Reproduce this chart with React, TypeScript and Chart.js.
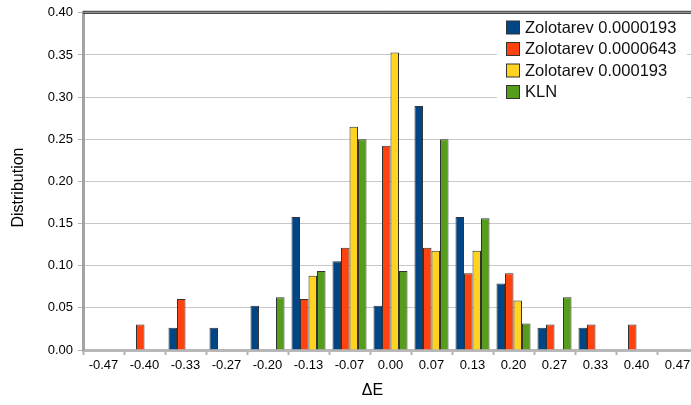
import React, { useEffect, useRef } from "react";
import { Chart, registerables } from "chart.js";

Chart.register(...registerables);

const categories = [
  "-0.47", "-0.40", "-0.33", "-0.27", "-0.20", "-0.13", "-0.07",
  "0.00", "0.07", "0.13", "0.20", "0.27", "0.33", "0.40", "0.47",
];

const zolotarev0000193 = [null, null, 0.0263, 0.0263, 0.0526, 0.1579, 0.1053, 0.0526, 0.2895, 0.1579, 0.0789, 0.0263, 0.0263, null, null];
const zolotarev0000643 = [null, 0.0303, 0.0606, null, null, 0.0606, 0.1212, 0.2424, 0.1212, 0.0909, 0.0909, 0.0303, 0.0303, 0.0303, null];
const zolotarev000193 = [null, null, null, null, null, 0.0882, 0.2647, 0.3529, 0.1176, 0.1176, 0.0588, null, null, null, null];
const kln = [null, null, null, null, 0.0625, 0.0938, 0.25, 0.0938, 0.25, 0.1563, 0.0313, 0.0625, null, null, null];

const seriesNames = ["Zolotarev 0.0000193", "Zolotarev 0.0000643", "Zolotarev 0.000193", "KLN"];
const seriesColors = ["#004586", "#ff420e", "#ffd320", "#579d1c"];

const yTitle = "Distribution";
const xTitle = "ΔE";

const FONT = "'Liberation Sans', Arial, sans-serif";

// Legend box inside the plot, axis titles and the framed top edge
const decorations = {
  id: "decorations",
  afterDraw(chart: any) {
    const { ctx, chartArea } = chart;
    ctx.save();

    // double line along the top edge of the plot
    ctx.fillStyle = "#222";
    ctx.fillRect(chartArea.left, chartArea.top - 2, chart.width - chartArea.left, 1);
    ctx.fillRect(chartArea.left, chartArea.top, chart.width - chartArea.left, 1);
    ctx.fillStyle = "#8a8a8a";
    ctx.fillRect(chartArea.left, chartArea.top - 1, chart.width - chartArea.left, 1);

    // legend
    ctx.fillStyle = "#fff";
    ctx.fillRect(497, chartArea.top + 2, 190, 89);
    ctx.font = `16.5px ${FONT}`;
    ctx.textBaseline = "middle";
    ctx.textAlign = "left";
    chart.data.datasets.forEach((ds: any, i: number) => {
      const cy = 27.5 + i * 21.5;
      ctx.fillStyle = ds.backgroundColor;
      ctx.fillRect(506.5, cy - 6.5, 13, 13);
      ctx.strokeStyle = "#333";
      ctx.lineWidth = 1;
      ctx.strokeRect(506.5, cy - 6.5, 13, 13);
      ctx.fillStyle = "#111";
      ctx.fillText(ds.label, 525, cy + 0.5);
    });

    // axis titles
    ctx.fillStyle = "#000";
    ctx.font = `16px ${FONT}`;
    ctx.textAlign = "center";
    ctx.textBaseline = "middle";
    ctx.fillText(xTitle, 372.5, 391);
    ctx.translate(19, 187.5);
    ctx.rotate(-Math.PI / 2);
    ctx.fillText(yTitle, 0, 0);

    ctx.restore();
  },
};

export default function App() {
  const canvasRef = useRef<HTMLCanvasElement | null>(null);

  useEffect(() => {
    if (!canvasRef.current) return;
    const values = [zolotarev0000193, zolotarev0000643, zolotarev000193, kln];
    const chart = new Chart(canvasRef.current, {
      type: "bar",
      data: {
        labels: categories,
        datasets: values.map((data, i) => ({
          label: seriesNames[i],
          data,
          backgroundColor: seriesColors[i],
          borderColor: "#333",
          borderWidth: 1,
          categoryPercentage: 0.83,
          barPercentage: 1,
        })),
      },
      options: {
        responsive: false,
        animation: false,
        devicePixelRatio: 1,
        layout: { padding: { left: 0, right: 7, top: 10, bottom: 0 } },
        plugins: {
          legend: { display: false },
          tooltip: { enabled: false },
        },
        scales: {
          x: {
            grid: {
              display: true,
              drawOnChartArea: false,
              drawTicks: true,
              tickLength: 5,
              tickColor: "#b3b3b3",
              tickWidth: 2,
              offset: true,
            },
            border: { display: true, color: "#b8b8b8", width: 3 },
            ticks: {
              autoSkip: false,
              maxRotation: 0,
              padding: 3,
              color: "#000",
              font: { family: FONT, size: 13 },
            },
            afterFit(scale: any) {
              scale.height = 55;
            },
          },
          y: {
            min: 0,
            max: 0.4,
            grid: {
              color: "#c8c8c8",
              lineWidth: 1,
              tickLength: 5,
              tickColor: "#b3b3b3",
            },
            border: { display: true, color: "#a3a3a3", width: 3 },
            ticks: {
              stepSize: 0.05,
              padding: 5,
              color: "#000",
              font: { family: FONT, size: 13 },
              callback: (v: any) => Number(v).toFixed(2),
            },
            afterFit(scale: any) {
              scale.width = 83;
            },
          },
        },
      },
      plugins: [decorations],
    });
    return () => chart.destroy();
  }, []);

  return (
    <div style={{ position: "fixed", left: 0, top: 0, width: 691, height: 405, overflow: "hidden", background: "#fff" }}>
      <canvas ref={canvasRef} width={705} height={405} style={{ display: "block" }} />
    </div>
  );
}
